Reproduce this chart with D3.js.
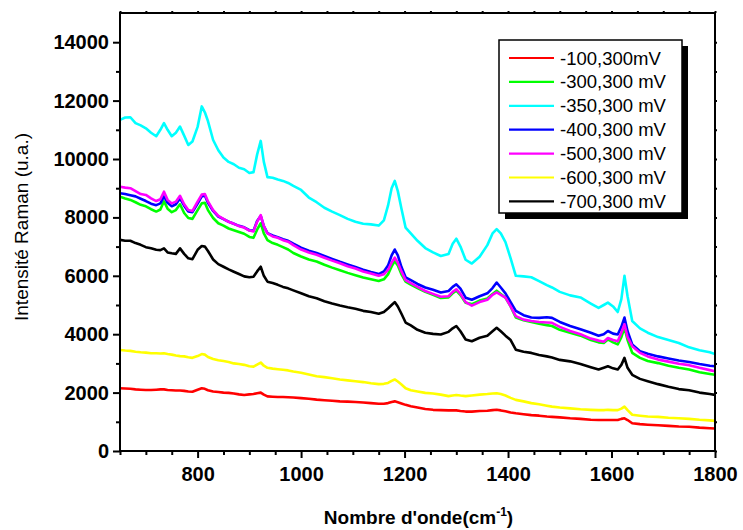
<!DOCTYPE html>
<html><head><meta charset="utf-8">
<script src="https://cdn.jsdelivr.net/npm/d3@7"></script>
<style>html,body{margin:0;padding:0;background:#fff;} svg{display:block;font-family:"Liberation Sans",Arial,sans-serif;}</style>
</head><body>
<svg id="chart" width="743" height="530"></svg>
<script>
// ---- DATA ----
const wavenumbers = [650,660,670,680,690,700,710,720,728,735,
 742,750,758,766,774,782,790,800,808,814,
 820,830,840,850,860,870,880,890,900,908,
 915,922,928,935,945,955,965,975,985,1000,
 1015,1030,1045,1060,1075,1090,1105,1120,1135,1150,
 1160,1168,1175,1181,1187,1194,1202,1212,1225,1240,
 1255,1270,1285,1293,1300,1308,1318,1330,1345,1360,
 1370,1378,1386,1395,1405,1415,1430,1445,1460,1475,
 1485,1500,1520,1540,1560,1575,1585,1593,1603,1612,
 1619,1625,1631,1640,1655,1670,1690,1710,1730,1750,
 1770,1790,1800];

const seriesNames = ["-100,300mV","-300,300 mV","-350,300 mV","-400,300 mV","-500,300 mV","-600,300 mV","-700,300 mV"];

const s100 = [2150,2140,2130,2110,2100,2090,2090,2100,2110,2110,
 2090,2080,2070,2070,2060,2040,2030,2100,2150,2130,
 2080,2040,2020,2000,1990,1970,1940,1920,1940,1950,
 1980,2000,1930,1870,1860,1850,1850,1840,1830,1810,
 1790,1760,1740,1720,1700,1690,1680,1660,1640,1620,
 1620,1640,1680,1700,1670,1630,1580,1530,1490,1440,
 1410,1400,1390,1390,1390,1370,1350,1350,1370,1380,
 1400,1410,1390,1360,1320,1290,1260,1230,1210,1180,
 1170,1150,1120,1100,1070,1060,1060,1060,1060,1060,
 1100,1120,1060,950,920,900,880,860,840,830,
 800,780,770];

const s300 = [8710,8650,8600,8520,8430,8380,8280,8200,8270,8550,
 8300,8180,8250,8450,8150,7980,7950,8250,8480,8500,
 8250,7980,7800,7720,7620,7560,7500,7440,7330,7300,
 7580,7800,7450,7220,7120,7060,6980,6900,6780,6660,
 6560,6490,6380,6280,6190,6100,6020,5940,5880,5820,
 5880,6050,6320,6500,6350,6050,5800,5700,5580,5450,
 5350,5240,5260,5400,5490,5340,5080,5030,5150,5220,
 5380,5490,5380,5250,4950,4570,4480,4420,4360,4310,
 4280,4150,4050,3950,3800,3720,3700,3820,3720,3650,
 3900,4220,3800,3360,3190,3080,3010,2920,2850,2790,
 2700,2640,2610];

const s350 = [11340,11420,11430,11230,11150,11050,10900,10780,11000,11230,
 11000,10780,10900,11110,10800,10480,10600,11100,11800,11600,
 11300,10650,10300,10050,9900,9820,9700,9650,9520,9550,
 10150,10620,9900,9380,9360,9300,9250,9180,9080,8940,
 8680,8520,8330,8200,8080,7950,7850,7780,7760,7720,
 7900,8400,9000,9250,8900,8300,7650,7450,7200,6950,
 6800,6680,6750,7100,7270,7000,6550,6420,6650,7050,
 7450,7600,7450,7150,6600,6000,5980,5950,5820,5680,
 5600,5450,5330,5260,5050,4900,5000,5080,4950,4760,
 5200,6000,5300,4450,4200,4050,3900,3800,3700,3550,
 3450,3380,3320];

const s400 = [8830,8800,8760,8720,8640,8560,8470,8420,8480,8720,
 8500,8380,8450,8650,8400,8200,8180,8470,8720,8750,
 8500,8220,8030,7940,7850,7780,7710,7660,7560,7540,
 7880,8050,7700,7460,7380,7320,7250,7200,7100,6960,
 6860,6780,6680,6580,6480,6390,6300,6210,6130,6060,
 6150,6350,6700,6900,6700,6300,5950,5850,5720,5600,
 5520,5430,5480,5620,5710,5560,5250,5180,5300,5400,
 5580,5770,5600,5400,5100,4800,4650,4570,4560,4580,
 4560,4420,4280,4170,4050,3950,4000,4110,4020,3990,
 4250,4570,4100,3650,3420,3330,3240,3170,3100,3050,
 2980,2920,2900];

const s500 = [9050,9020,9000,8900,8800,8770,8650,8560,8620,8880,
 8600,8480,8540,8740,8450,8250,8220,8540,8780,8800,
 8550,8250,8050,7950,7850,7780,7700,7650,7550,7520,
 7850,8080,7700,7450,7350,7300,7220,7170,7050,6900,
 6800,6720,6620,6520,6430,6330,6250,6150,6080,6000,
 6050,6200,6450,6620,6450,6150,5850,5750,5620,5480,
 5380,5280,5300,5450,5540,5380,5100,4980,5100,5180,
 5350,5430,5350,5250,4950,4620,4500,4450,4420,4400,
 4390,4250,4110,4000,3850,3780,3740,3870,3800,3760,
 4050,4340,3900,3590,3360,3240,3130,3060,2990,2940,
 2850,2770,2730];

const s600 = [3460,3440,3430,3400,3380,3370,3350,3350,3340,3350,
 3320,3300,3270,3250,3240,3210,3190,3250,3320,3300,
 3220,3150,3110,3080,3050,3000,2980,2950,2900,2890,
 2960,3030,2920,2850,2820,2800,2780,2760,2720,2680,
 2620,2560,2530,2490,2450,2420,2390,2360,2320,2290,
 2300,2330,2400,2450,2380,2280,2150,2080,2040,1990,
 1970,1930,1880,1900,1920,1900,1880,1900,1930,1950,
 1970,1980,1950,1900,1820,1750,1700,1640,1600,1550,
 1520,1490,1460,1430,1410,1400,1400,1410,1400,1400,
 1450,1520,1400,1240,1210,1180,1170,1140,1120,1100,
 1070,1050,1030];

const s700 = [7230,7200,7200,7120,7060,6980,6940,6890,6880,6940,
 6800,6770,6750,6940,6750,6600,6570,6890,7020,7000,
 6850,6560,6400,6310,6220,6140,6060,5980,5950,5970,
 6150,6310,6000,5800,5750,5690,5620,5570,5500,5400,
 5300,5230,5130,5050,4980,4920,4870,4800,4760,4700,
 4760,4880,5000,5100,4950,4700,4400,4300,4150,4050,
 4010,3990,4080,4200,4280,4100,3820,3760,3880,3950,
 4100,4220,4100,3950,3800,3470,3400,3360,3290,3240,
 3200,3120,3070,2980,2870,2790,2850,2900,2830,2790,
 2950,3190,2850,2610,2470,2390,2290,2200,2120,2080,
 2000,1950,1920];

const seriesValues = [s100, s300, s350, s400, s500, s600, s700];
const yMajorTicks = [0,2000,4000,6000,8000,10000,12000,14000];
const yMinorTicks = [1000,3000,5000,7000,9000,11000,13000];
const xMajorTicks = [800,1000,1200,1400,1600,1800];
const xMinorTicks = [650,700,750,850,900,950,1050,1100,1150,1250,1300,1350,1450,1500,1550,1650,1700,1750];

// ---- STYLE ----
const colors = ["#ff0000","#00ff00","#00ffff","#0000ff","#ff00ff","#ffff00","#000000"];
const L = 120, R = 715, T = 13, B = 451;

const svg = d3.select("#chart");
const x = d3.scaleLinear().domain([650,1800]).range([L,R]);
const y = d3.scaleLinear().domain([0,15000]).range([B,T]);

svg.append("defs").append("clipPath").attr("id","clip")
  .append("rect").attr("x",L).attr("y",T).attr("width",R-L).attr("height",B-T);

const line = d3.line().x(d=>x(d[0])).y(d=>y(d[1]));
const gLines = svg.append("g").attr("clip-path","url(#clip)");
seriesValues.forEach((vals,i)=>{
  const pts = wavenumbers.map((w,j)=>[w, vals[j]]);
  gLines.append("path").datum(pts).attr("d",line)
    .attr("fill","none").attr("stroke",colors[i]).attr("stroke-width",2.6)
    .attr("stroke-linejoin","round");
});

// axes
function styleAxis(g){
  g.select(".domain").remove();
  g.selectAll(".tick line").attr("stroke","#000").attr("stroke-width",2);
  g.selectAll(".tick text").attr("fill","#000").attr("font-size","20px").attr("font-weight","bold")
   .attr("font-family","'Liberation Sans',Arial,sans-serif");
}
svg.append("g").attr("transform",`translate(${L},0)`)
  .call(d3.axisLeft(y).tickValues(yMajorTicks).tickSize(7).tickPadding(4).tickFormat(d3.format("d"))).call(styleAxis);
svg.append("g").attr("transform",`translate(${L},0)`)
  .call(d3.axisLeft(y).tickValues(yMinorTicks).tickSize(4).tickFormat("")).call(styleAxis);
svg.append("g").attr("transform",`translate(0,${B})`)
  .call(d3.axisBottom(x).tickValues(xMajorTicks).tickSize(7).tickPadding(9).tickFormat(d3.format("d"))).call(styleAxis);
svg.append("g").attr("transform",`translate(0,${B})`)
  .call(d3.axisBottom(x).tickValues(xMinorTicks).tickSize(4).tickFormat("")).call(styleAxis);
// mirror ticks
svg.append("g").attr("transform",`translate(0,${T})`)
  .call(d3.axisTop(x).tickValues(xMajorTicks.concat(xMinorTicks)).tickSize(2).tickFormat("")).call(styleAxis);
svg.append("g").attr("transform",`translate(${R},0)`)
  .call(d3.axisRight(y).tickValues(yMajorTicks.concat(yMinorTicks)).tickSize(2).tickFormat("")).call(styleAxis);

svg.append("rect").attr("x",L).attr("y",T).attr("width",R-L).attr("height",B-T)
  .attr("fill","none").attr("stroke","#000").attr("stroke-width",2);

// axis titles
svg.append("text").attr("transform",`translate(28,${(T+B)/2-5}) rotate(-90)`)
  .attr("text-anchor","middle").attr("font-size","19px").attr("fill","#000")
  .text("Intensité Raman (u.a.)");
const xt = svg.append("text").attr("x",(L+R)/2+1).attr("y",524).attr("text-anchor","middle")
  .attr("font-size","19px").attr("font-weight","bold").attr("fill","#000");
xt.append("tspan").text("Nombre d'onde(cm");
xt.append("tspan").attr("dy",-8).attr("font-size","12px").text("-1");
xt.append("tspan").attr("dy",8).text(")");

// legend
const lx = 499, ly = 40, lw = 183, lh = 173;
svg.append("rect").attr("x",lx+6).attr("y",ly+6).attr("width",lw).attr("height",lh).attr("fill","#000");
svg.append("rect").attr("x",lx).attr("y",ly).attr("width",lw).attr("height",lh)
  .attr("fill","#fff").attr("stroke","#000").attr("stroke-width",1.5);
seriesNames.forEach((n,i)=>{
  const yy = ly + 18 + i*23.9;
  svg.append("line").attr("x1",lx+10).attr("x2",lx+55).attr("y1",yy).attr("y2",yy)
    .attr("stroke",colors[i]).attr("stroke-width",2.2);
  svg.append("text").attr("x",lx+61).attr("y",yy+6.5).attr("font-size","18.5px").attr("fill","#000").text(n);
});
</script>
</body></html>
